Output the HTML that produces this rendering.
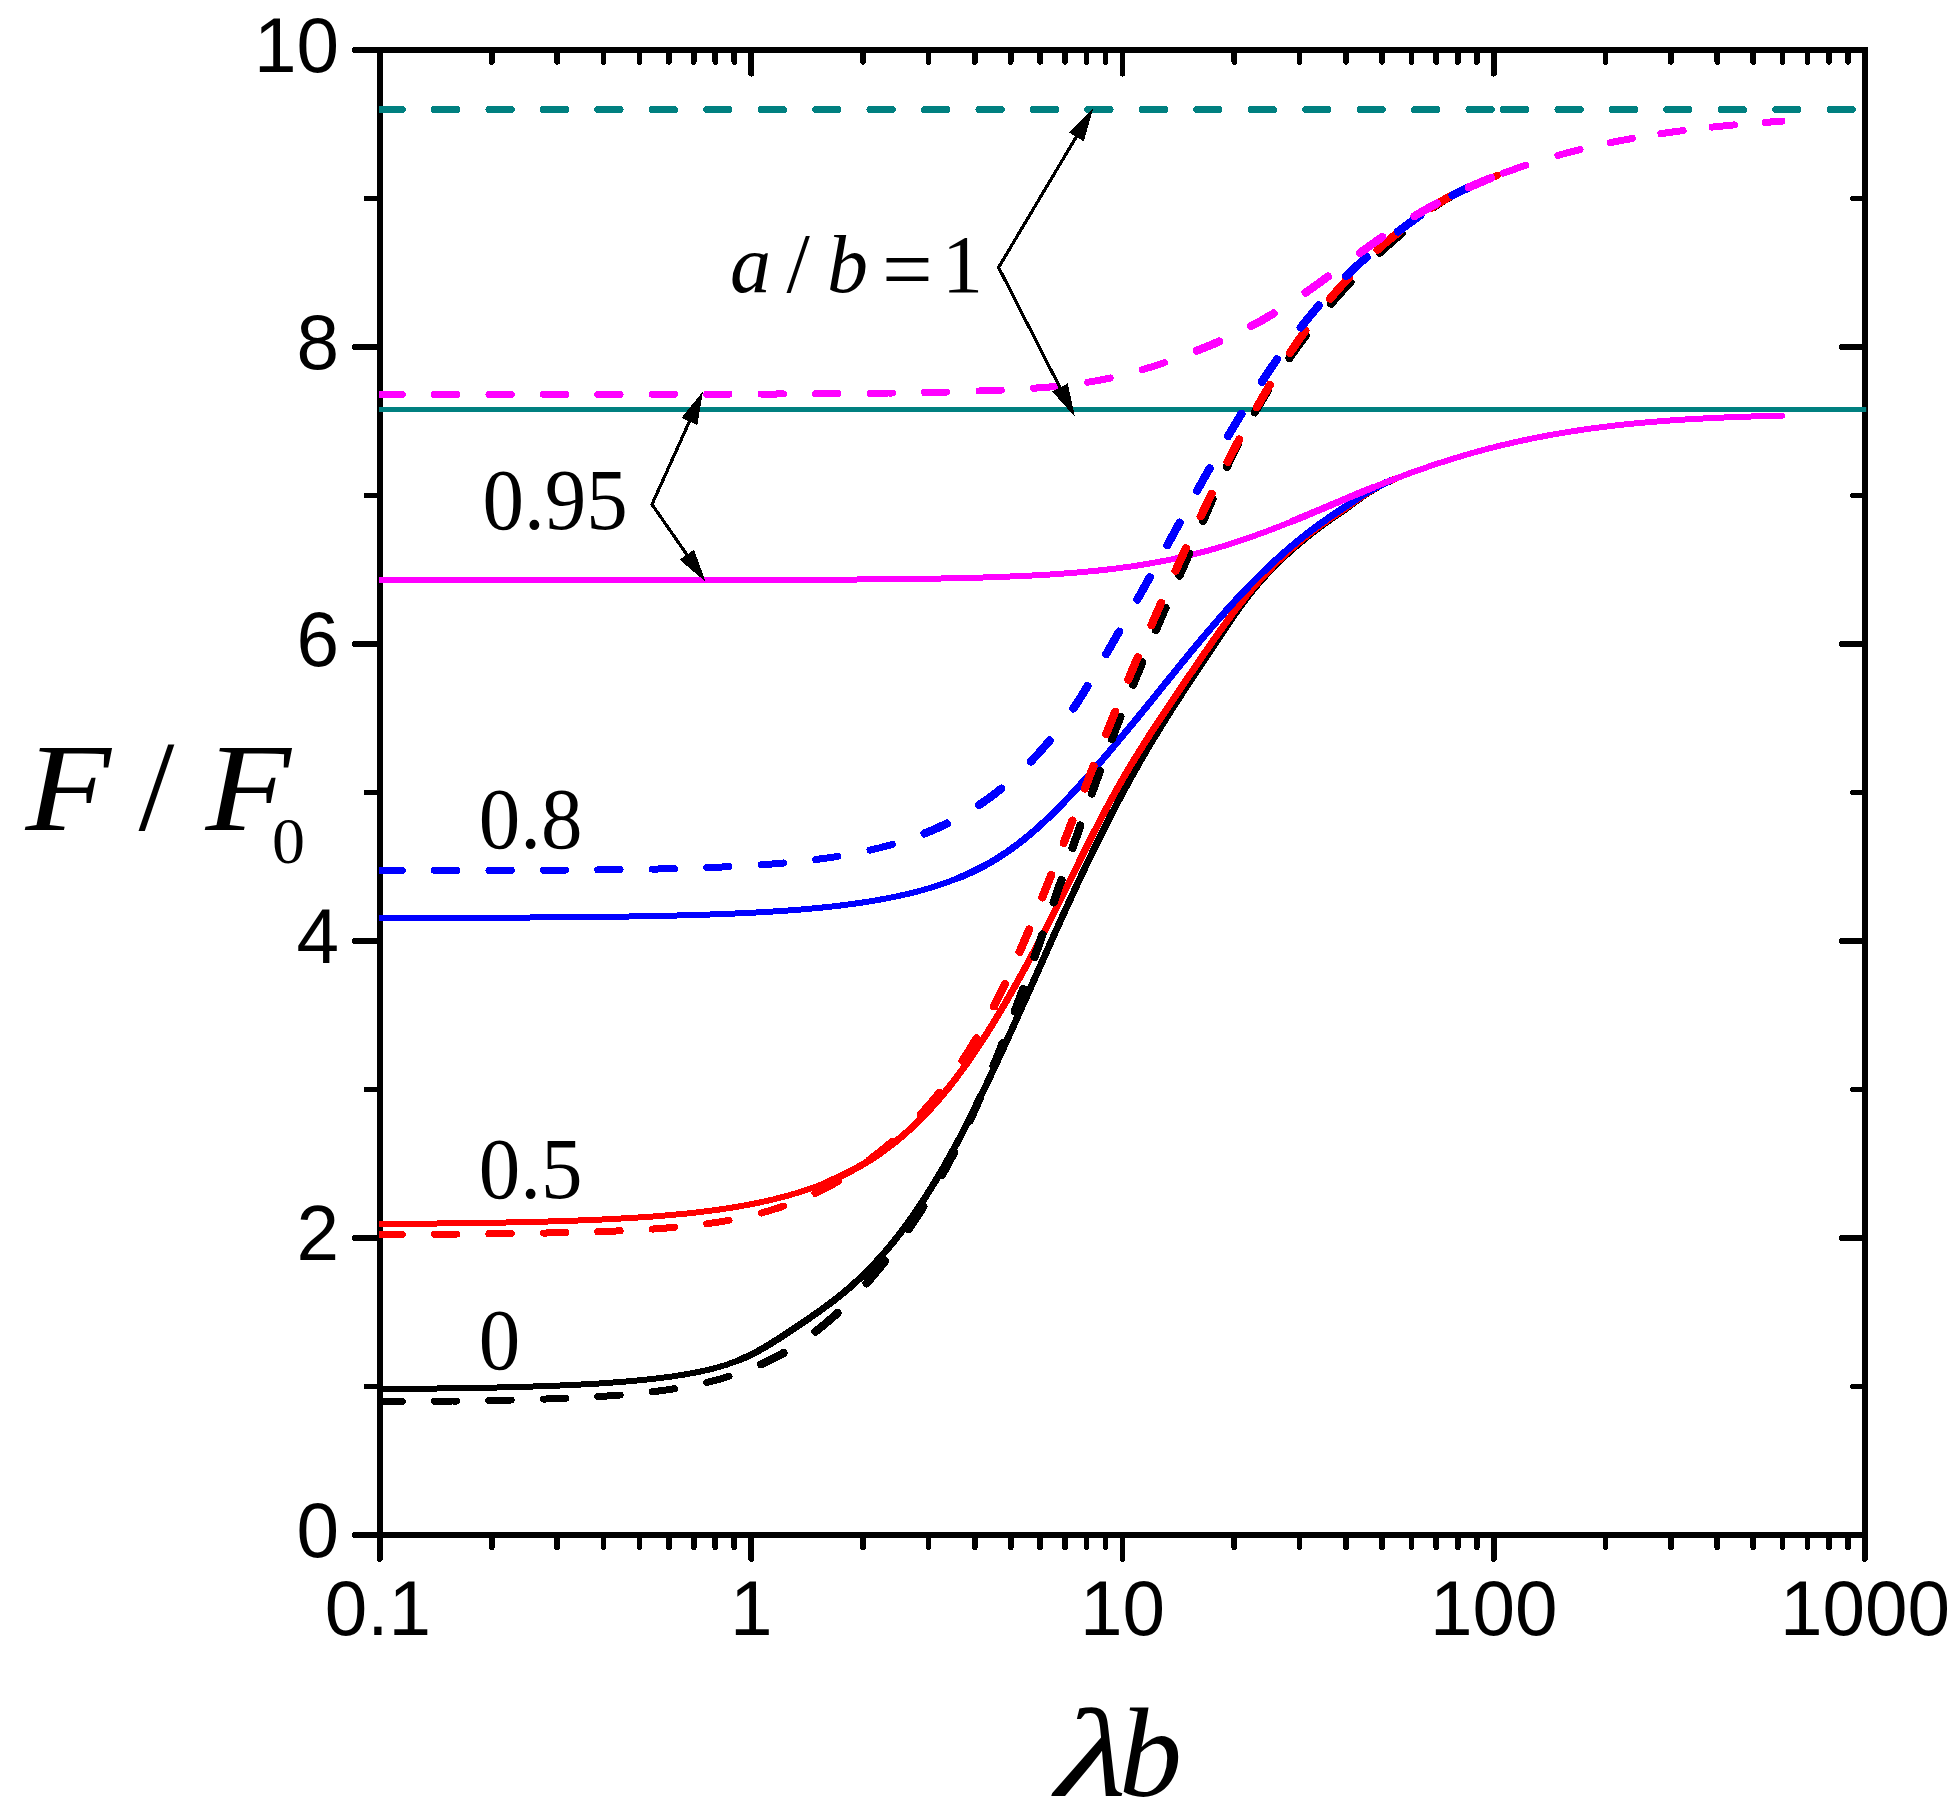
<!DOCTYPE html>
<html><head><meta charset="utf-8"><title>F / F0 versus λb</title>
<style>html,body{margin:0;padding:0;background:#fff}svg{display:block}</style>
</head><body>
<svg width="1959" height="1812" viewBox="0 0 1959 1812">
<rect width="1959" height="1812" fill="#fff"/>
<g fill="none" stroke="#000" stroke-linecap="round" shape-rendering="crispEdges">
<rect x="380" y="50" width="1485" height="1485" stroke-width="6.0" stroke-linejoin="miter"/>
<path d="M380 1535 v24.0 M380 50 v23.7 M491.8 1535 v12.2 M491.8 50 v11.899999999999999 M557.1 1535 v12.2 M557.1 50 v11.899999999999999 M603.5 1535 v12.2 M603.5 50 v11.899999999999999 M639.5 1535 v12.2 M639.5 50 v11.899999999999999 M668.9 1535 v12.2 M668.9 50 v11.899999999999999 M693.7 1535 v12.2 M693.7 50 v11.899999999999999 M715.3 1535 v12.2 M715.3 50 v11.899999999999999 M734.3 1535 v12.2 M734.3 50 v11.899999999999999 M751.2 1535 v24.0 M751.2 50 v23.7 M863 1535 v12.2 M863 50 v11.899999999999999 M928.4 1535 v12.2 M928.4 50 v11.899999999999999 M974.8 1535 v12.2 M974.8 50 v11.899999999999999 M1010.7 1535 v12.2 M1010.7 50 v11.899999999999999 M1040.1 1535 v12.2 M1040.1 50 v11.899999999999999 M1065 1535 v12.2 M1065 50 v11.899999999999999 M1086.5 1535 v12.2 M1086.5 50 v11.899999999999999 M1105.5 1535 v12.2 M1105.5 50 v11.899999999999999 M1122.5 1535 v24.0 M1122.5 50 v23.7 M1234.3 1535 v12.2 M1234.3 50 v11.899999999999999 M1299.6 1535 v12.2 M1299.6 50 v11.899999999999999 M1346 1535 v12.2 M1346 50 v11.899999999999999 M1382 1535 v12.2 M1382 50 v11.899999999999999 M1411.4 1535 v12.2 M1411.4 50 v11.899999999999999 M1436.2 1535 v12.2 M1436.2 50 v11.899999999999999 M1457.8 1535 v12.2 M1457.8 50 v11.899999999999999 M1476.8 1535 v12.2 M1476.8 50 v11.899999999999999 M1493.8 1535 v24.0 M1493.8 50 v23.7 M1605.5 1535 v12.2 M1605.5 50 v11.899999999999999 M1670.9 1535 v12.2 M1670.9 50 v11.899999999999999 M1717.3 1535 v12.2 M1717.3 50 v11.899999999999999 M1753.2 1535 v12.2 M1753.2 50 v11.899999999999999 M1782.6 1535 v12.2 M1782.6 50 v11.899999999999999 M1807.5 1535 v12.2 M1807.5 50 v11.899999999999999 M1829 1535 v12.2 M1829 50 v11.899999999999999 M1848 1535 v12.2 M1848 50 v11.899999999999999 M1865 1535 v24.0 M1865 50 v23.7 M380 1535 h-25.0 M1865 1535 h-23.5 M380 1386.5 h-13.5 M1865 1386.5 h-12.0 M380 1238 h-25.0 M1865 1238 h-23.5 M380 1089.5 h-13.5 M1865 1089.5 h-12.0 M380 941 h-25.0 M1865 941 h-23.5 M380 792.5 h-13.5 M1865 792.5 h-12.0 M380 644 h-25.0 M1865 644 h-23.5 M380 495.5 h-13.5 M1865 495.5 h-12.0 M380 347 h-25.0 M1865 347 h-23.5 M380 198.5 h-13.5 M1865 198.5 h-12.0 M380 50 h-25.0 M1865 50 h-23.5" stroke-width="5.7"/>
</g>
<clipPath id="pc"><rect x="379" y="40" width="1487.2" height="1500"/></clipPath>
<g fill="none" stroke-linecap="round" stroke-linejoin="round" clip-path="url(#pc)" shape-rendering="crispEdges">
<path d="M380 1389 L383 1389 L386 1389 L389 1388.9 L392 1388.9 L395 1388.9 L398 1388.9 L401 1388.8 L404 1388.8 L407 1388.8 L410 1388.8 L413 1388.7 L416 1388.7 L419 1388.7 L422 1388.7 L425 1388.6 L428 1388.6 L431 1388.6 L434 1388.5 L437 1388.5 L440 1388.4 L443 1388.4 L446 1388.4 L449 1388.3 L452 1388.3 L455 1388.2 L458 1388.2 L461 1388.2 L464 1388.1 L467 1388.1 L470 1388 L473 1388 L476 1387.9 L479 1387.8 L482 1387.8 L485 1387.7 L488 1387.7 L491 1387.6 L494 1387.5 L497 1387.5 L500 1387.4 L503 1387.3 L506 1387.3 L509 1387.2 L512 1387.1 L515 1387 L518 1386.9 L521 1386.9 L524 1386.8 L527 1386.7 L530 1386.6 L533 1386.5 L536 1386.4 L539 1386.3 L542 1386.2 L545 1386.1 L548 1386 L551 1385.9 L554 1385.7 L557 1385.6 L560 1385.5 L563 1385.4 L566 1385.2 L569 1385.1 L572 1385 L575 1384.8 L578 1384.7 L581 1384.5 L584 1384.3 L587 1384.2 L590 1384 L593 1383.8 L596 1383.7 L599 1383.5 L602 1383.3 L605 1383.1 L608 1382.9 L611 1382.7 L614 1382.4 L617 1382.2 L620 1382 L623 1381.7 L626 1381.5 L629 1381.2 L632 1381 L635 1380.7 L638 1380.4 L641 1380.1 L644 1379.8 L647 1379.5 L650 1379.2 L653 1378.9 L656 1378.5 L659 1378.2 L662 1377.8 L665 1377.4 L668 1377 L671 1376.6 L674 1376.2 L677 1375.7 L680 1375.2 L683 1374.8 L686 1374.3 L689 1373.7 L692 1373.2 L695 1372.6 L698 1372 L701 1371.4 L704 1370.7 L707 1370.1 L710 1369.3 L713 1368.6 L716 1367.8 L719 1367 L722 1366.1 L725 1365.2 L728 1364.2 L731 1363.1 L734 1362.1 L737 1360.9 L740 1359.7 L743 1358.4 L746 1357.1 L749 1355.7 L752 1354.2 L755 1352.7 L758 1351.1 L761 1349.4 L764 1347.7 L767 1345.9 L770 1344.1 L773 1342.2 L776 1340.3 L779 1338.4 L782 1336.4 L785 1334.5 L788 1332.5 L791 1330.5 L794 1328.5 L797 1326.5 L800 1324.5 L803 1322.5 L806 1320.4 L809 1318.4 L812 1316.3 L815 1314.2 L818 1312.1 L821 1310 L824 1307.8 L827 1305.6 L830 1303.4 L833 1301.1 L836 1298.8 L839 1296.4 L842 1294 L845 1291.5 L848 1289 L851 1286.4 L854 1283.7 L857 1281 L860 1278.2 L863 1275.3 L866 1272.4 L869 1269.3 L872 1266.3 L875 1263.1 L878 1259.8 L881 1256.5 L884 1253.1 L887 1249.6 L890 1246 L893 1242.4 L896 1238.6 L899 1234.8 L902 1230.8 L905 1226.8 L908 1222.7 L911 1218.5 L914 1214.2 L917 1209.9 L920 1205.4 L923 1200.8 L926 1196.2 L929 1191.4 L932 1186.6 L935 1181.7 L938 1176.7 L941 1171.6 L944 1166.4 L947 1161.1 L950 1155.8 L953 1150.3 L956 1144.8 L959 1139.2 L962 1133.5 L965 1127.7 L968 1121.9 L971 1116 L974 1110 L977 1103.9 L980 1097.8 L983 1091.6 L986 1085.4 L989 1079.1 L992 1072.7 L995 1066.3 L998 1059.9 L1001 1053.4 L1004 1046.8 L1007 1040.3 L1010 1033.6 L1013 1027 L1016 1020.3 L1019 1013.6 L1022 1006.9 L1025 1000.2 L1028 993.5 L1031 986.7 L1034 980 L1037 973.2 L1040 966.5 L1043 959.7 L1046 953 L1049 946.3 L1052 939.6 L1055 932.9 L1058 926.2 L1061 919.6 L1064 913 L1067 906.4 L1070 899.9 L1073 893.4 L1076 886.9 L1079 880.5 L1082 874.1 L1085 867.8 L1088 861.5 L1091 855.3 L1094 849.1 L1097 843 L1100 836.9 L1103 830.9 L1106 824.9 L1109 819 L1112 813.2 L1115 807.4 L1118 801.7 L1121 796 L1124 790.5 L1127 784.9 L1130 779.5 L1133 774.1 L1136 768.7 L1139 763.4 L1142 758.2 L1145 753 L1148 747.9 L1151 742.9 L1154 737.9 L1157 733 L1160 728.1 L1163 723.2 L1166 718.5 L1169 713.7 L1172 709 L1175 704.3 L1178 699.7 L1181 695.1 L1184 690.5 L1187 686 L1190 681.4 L1193 676.9 L1196 672.4 L1199 667.8 L1202 663.3 L1205 658.8 L1208 654.2 L1211 649.7 L1214 645.1 L1217 640.6 L1220 636.1 L1223 631.6 L1226 627.1 L1229 622.7 L1232 618.3 L1235 614 L1238 609.8 L1241 605.6 L1244 601.6 L1247 597.6 L1250 593.8 L1253 590.1 L1256 586.5 L1259 582.9 L1262 579.5 L1265 576.2 L1268 572.9 L1271 569.8 L1274 566.7 L1277 563.7 L1280 560.8 L1283 557.9 L1286 555.1 L1289 552.4 L1292 549.7 L1295 547.1 L1298 544.5 L1301 542 L1304 539.5 L1307 537.1 L1310 534.7 L1313 532.3 L1316 530 L1319 527.7 L1322 525.5 L1325 523.3 L1328 521.2 L1331 519 L1334 517 L1337 514.9 L1340 512.9 L1343 510.8 L1346 508.7 L1349 506.5 L1352 504.2 L1355 502 L1358 499.8 L1361 497.7 L1364 495.6 L1367 493.5 L1370 491.6 L1373 489.8 L1376 488 L1379 486.3 L1382 484.8 L1385 483.3 L1388 481.9 L1391 480.5 L1394 479.3 L1397 478.1 L1400 476.9 L1403 475.8 L1406 474.7 L1409 473.5 L1412 472.5 L1415 471.4 L1418 470.3 L1421 469.2 L1424 468.2 L1427 467.2 L1430 466.1 L1433 465.1 L1436 464.1 L1439 463.1 L1442 462.2 L1445 461.2 L1448 460.2 L1451 459.3 L1454 458.4 L1457 457.5 L1460 456.6 L1463 455.7 L1466 454.8 L1469 453.9 L1472 453.1 L1475 452.2 L1478 451.4 L1481 450.6 L1484 449.8 L1487 449 L1490 448.2 L1493 447.5 L1496 446.7 L1499 446 L1502 445.2 L1505 444.5 L1508 443.8 L1511 443.1 L1514 442.4 L1517 441.7 L1520 441.1 L1523 440.4 L1526 439.8 L1529 439.2 L1532 438.5 L1535 437.9 L1538 437.3 L1541 436.8 L1544 436.2 L1547 435.6 L1550 435.1 L1553 434.5 L1556 434 L1559 433.5 L1562 433 L1565 432.5 L1568 432 L1571 431.5 L1574 431 L1577 430.6 L1580 430.1 L1583 429.7 L1586 429.2 L1589 428.8 L1592 428.4 L1595 428 L1598 427.6 L1601 427.2 L1604 426.8 L1607 426.5 L1610 426.1 L1613 425.8 L1616 425.4 L1619 425.1 L1622 424.8 L1625 424.4 L1628 424.1 L1631 423.8 L1634 423.5 L1637 423.3 L1640 423 L1643 422.7 L1646 422.4 L1649 422.2 L1652 421.9 L1655 421.7 L1658 421.4 L1661 421.2 L1664 421 L1667 420.8 L1670 420.5 L1673 420.3 L1676 420.1 L1679 419.9 L1682 419.7 L1685 419.5 L1688 419.4 L1691 419.2 L1694 419 L1697 418.8 L1700 418.7 L1703 418.5 L1706 418.4 L1709 418.2 L1712 418.1 L1715 417.9 L1718 417.8 L1721 417.7 L1724 417.5 L1727 417.4 L1730 417.3 L1733 417.2 L1736 417.1 L1739 417 L1742 416.8 L1745 416.7 L1748 416.6 L1751 416.5 L1754 416.4 L1757 416.4 L1760 416.3 L1763 416.2 L1766 416.1 L1769 416 L1772 415.9 L1775 415.9 L1778 415.8 L1781 415.7 L1782 415.7" stroke="#000" stroke-width="6.0"/>
<path d="M740 1359.7 L743 1358.4 L746 1357.1 L749 1355.7 L752 1354.2 L755 1352.7 L758 1351.1 L761 1349.4 L764 1347.7 L767 1345.9 L770 1344.1 L773 1342.2 L776 1340.3 L779 1338.4 L782 1336.4 L785 1334.5 L788 1332.5 L791 1330.5 L794 1328.5 L797 1326.5 L800 1324.5 L803 1322.5 L806 1320.4 L809 1318.4 L812 1316.3 L815 1314.2 L818 1312.1 L821 1310 L824 1307.8 L827 1305.6 L830 1303.4 L833 1301.1 L836 1298.8 L839 1296.4 L842 1294 L845 1291.5 L848 1289 L851 1286.4 L854 1283.7 L857 1281 L860 1278.2 L863 1275.3 L866 1272.4 L869 1269.3 L872 1266.3 L875 1263.1 L878 1259.8 L881 1256.5 L884 1253.1 L887 1249.6 L890 1246 L893 1242.4 L896 1238.6 L899 1234.8 L902 1230.8 L905 1226.8 L908 1222.7 L911 1218.5 L914 1214.2 L917 1209.9 L920 1205.4 L923 1200.8 L926 1196.2 L929 1191.4 L932 1186.6 L935 1181.7 L938 1176.7 L941 1171.6 L944 1166.4 L947 1161.1 L950 1155.8 L953 1150.3 L956 1144.8 L959 1139.2 L962 1133.5 L965 1127.7 L968 1121.9 L971 1116 L974 1110 L977 1103.9 L980 1097.8 L983 1091.6 L986 1085.4 L989 1079.1 L992 1072.7 L995 1066.3 L998 1059.9 L1001 1053.4 L1004 1046.8 L1007 1040.3 L1010 1033.6 L1013 1027 L1016 1020.3 L1019 1013.6 L1022 1006.9 L1025 1000.2 L1028 993.5 L1031 986.7 L1034 980 L1037 973.2 L1040 966.5 L1043 959.7 L1046 953 L1049 946.3 L1052 939.6 L1055 932.9 L1058 926.2 L1061 919.6 L1064 913 L1067 906.4 L1070 899.9 L1073 893.4 L1076 886.9 L1079 880.5 L1082 874.1 L1085 867.8 L1088 861.5 L1091 855.3 L1094 849.1 L1097 843 L1100 836.9 L1103 830.9 L1106 824.9 L1109 819 L1112 813.2 L1115 807.4 L1118 801.7 L1121 796 L1124 790.5 L1127 784.9 L1130 779.5 L1133 774.1 L1136 768.7 L1139 763.4 L1142 758.2 L1145 753 L1148 747.9 L1151 742.9 L1154 737.9 L1157 733 L1160 728.1 L1163 723.2 L1166 718.5 L1169 713.7 L1172 709 L1175 704.3 L1178 699.7 L1181 695.1 L1184 690.5 L1187 686 L1190 681.4 L1193 676.9 L1196 672.4 L1199 667.8 L1202 663.3 L1205 658.8 L1208 654.2 L1211 649.7 L1214 645.1 L1217 640.6 L1220 636.1 L1223 631.6 L1226 627.1 L1229 622.7 L1232 618.3 L1235 614 L1238 609.8 L1241 605.6 L1244 601.6 L1247 597.6 L1250 593.8 L1253 590.1 L1256 586.5 L1259 582.9 L1262 579.5 L1265 576.2 L1268 572.9 L1271 569.8 L1274 566.7 L1277 563.7 L1280 560.8 L1283 557.9 L1286 555.1 L1289 552.4 L1292 549.7 L1295 547.1 L1298 544.5 L1301 542 L1304 539.5 L1307 537.1 L1310 534.7 L1313 532.3 L1316 530 L1319 527.7 L1322 525.5 L1325 523.3 L1328 521.2 L1331 519 L1334 517 L1337 514.9 L1340 512.9 L1343 510.8 L1346 508.7 L1349 506.5 L1352 504.2 L1355 502 L1358 499.8 L1361 497.7 L1364 495.6 L1367 493.5 L1370 491.6 L1373 489.8 L1376 488 L1379 486.3 L1382 484.8 L1385 483.3 L1388 481.9 L1391 480.5 L1394 479.3" stroke="#000" stroke-width="6.9"/>
<path d="M380 1224 L383 1224 L386 1224 L389 1223.9 L392 1223.9 L395 1223.9 L398 1223.8 L401 1223.8 L404 1223.8 L407 1223.8 L410 1223.7 L413 1223.7 L416 1223.7 L419 1223.7 L422 1223.6 L425 1223.6 L428 1223.6 L431 1223.5 L434 1223.5 L437 1223.5 L440 1223.4 L443 1223.4 L446 1223.4 L449 1223.3 L452 1223.3 L455 1223.3 L458 1223.2 L461 1223.2 L464 1223.1 L467 1223.1 L470 1223.1 L473 1223 L476 1223 L479 1222.9 L482 1222.9 L485 1222.8 L488 1222.8 L491 1222.7 L494 1222.7 L497 1222.6 L500 1222.6 L503 1222.5 L506 1222.5 L509 1222.4 L512 1222.3 L515 1222.3 L518 1222.2 L521 1222.2 L524 1222.1 L527 1222 L530 1222 L533 1221.9 L536 1221.8 L539 1221.7 L542 1221.6 L545 1221.6 L548 1221.5 L551 1221.4 L554 1221.3 L557 1221.2 L560 1221.1 L563 1221 L566 1220.9 L569 1220.8 L572 1220.7 L575 1220.6 L578 1220.5 L581 1220.4 L584 1220.3 L587 1220.2 L590 1220 L593 1219.9 L596 1219.8 L599 1219.7 L602 1219.5 L605 1219.4 L608 1219.2 L611 1219.1 L614 1218.9 L617 1218.8 L620 1218.6 L623 1218.4 L626 1218.3 L629 1218.1 L632 1217.9 L635 1217.7 L638 1217.5 L641 1217.3 L644 1217.1 L647 1216.9 L650 1216.7 L653 1216.5 L656 1216.2 L659 1216 L662 1215.8 L665 1215.5 L668 1215.3 L671 1215 L674 1214.7 L677 1214.4 L680 1214.2 L683 1213.9 L686 1213.6 L689 1213.2 L692 1212.9 L695 1212.6 L698 1212.2 L701 1211.9 L704 1211.5 L707 1211.2 L710 1210.8 L713 1210.4 L716 1210 L719 1209.6 L722 1209.1 L725 1208.7 L728 1208.2 L731 1207.7 L734 1207.3 L737 1206.8 L740 1206.2 L743 1205.7 L746 1205.2 L749 1204.6 L752 1204 L755 1203.4 L758 1202.8 L761 1202.2 L764 1201.5 L767 1200.9 L770 1200.2 L773 1199.5 L776 1198.7 L779 1198 L782 1197.2 L785 1196.4 L788 1195.6 L791 1194.7 L794 1193.8 L797 1192.9 L800 1192 L803 1191 L806 1190 L809 1189 L812 1188 L815 1186.9 L818 1185.8 L821 1184.6 L824 1183.4 L827 1182.2 L830 1180.9 L833 1179.6 L836 1178.3 L839 1176.9 L842 1175.5 L845 1174 L848 1172.5 L851 1171 L854 1169.4 L857 1167.7 L860 1166 L863 1164.3 L866 1162.5 L869 1160.6 L872 1158.7 L875 1156.8 L878 1154.7 L881 1152.7 L884 1150.5 L887 1148.3 L890 1146.1 L893 1143.7 L896 1141.4 L899 1138.9 L902 1136.4 L905 1133.8 L908 1131.1 L911 1128.4 L914 1125.6 L917 1122.7 L920 1119.7 L923 1116.7 L926 1113.6 L929 1110.4 L932 1107.1 L935 1103.8 L938 1100.4 L941 1096.9 L944 1093.3 L947 1089.6 L950 1085.9 L953 1082 L956 1078.1 L959 1074.1 L962 1070.1 L965 1065.9 L968 1061.7 L971 1057.4 L974 1053 L977 1048.5 L980 1044 L983 1039.4 L986 1034.7 L989 1030 L992 1025.1 L995 1020.2 L998 1015.3 L1001 1010.3 L1004 1005.2 L1007 1000 L1010 994.8 L1013 989.6 L1016 984.3 L1019 978.9 L1022 973.5 L1025 968 L1028 962.5 L1031 956.9 L1034 951.3 L1037 945.6 L1040 939.9 L1043 934.2 L1046 928.4 L1049 922.5 L1052 916.6 L1055 910.7 L1058 904.7 L1061 898.7 L1064 892.7 L1067 886.6 L1070 880.6 L1073 874.5 L1076 868.4 L1079 862.3 L1082 856.2 L1085 850.1 L1088 844.1 L1091 838.1 L1094 832.2 L1097 826.3 L1100 820.5 L1103 814.8 L1106 809.1 L1109 803.5 L1112 798 L1115 792.6 L1118 787.3 L1121 782 L1124 776.8 L1127 771.7 L1130 766.6 L1133 761.7 L1136 756.7 L1139 751.9 L1142 747.1 L1145 742.3 L1148 737.6 L1151 732.9 L1154 728.3 L1157 723.7 L1160 719.1 L1163 714.6 L1166 710.1 L1169 705.6 L1172 701.1 L1175 696.6 L1178 692.2 L1181 687.8 L1184 683.3 L1187 678.9 L1190 674.5 L1193 670.1 L1196 665.7 L1199 661.3 L1202 656.9 L1205 652.5 L1208 648.1 L1211 643.8 L1214 639.5 L1217 635.2 L1220 630.9 L1223 626.7 L1226 622.6 L1229 618.5 L1232 614.4 L1235 610.4 L1238 606.5 L1241 602.6 L1244 598.9 L1247 595.1 L1250 591.5 L1253 587.9 L1256 584.5 L1259 581.1 L1262 577.7 L1265 574.5 L1268 571.3 L1271 568.2 L1274 565.1 L1277 562.1 L1280 559.2 L1283 556.4 L1286 553.6 L1289 550.9 L1292 548.2 L1295 545.6 L1298 543 L1301 540.5 L1304 538.1 L1307 535.6 L1310 533.3 L1313 531 L1316 528.7 L1319 526.4 L1322 524.2 L1325 522.1 L1328 520 L1331 517.9 L1334 515.8 L1337 513.8 L1340 511.8 L1343 509.8 L1346 507.7 L1349 505.6 L1352 503.4 L1355 501.3 L1358 499.2 L1361 497.1 L1364 495.1 L1367 493.1 L1370 491.3 L1373 489.5 L1376 487.8 L1379 486.2 L1382 484.7 L1385 483.2 L1388 481.8 L1391 480.5 L1394 479.2 L1397 478 L1400 476.9 L1403 475.8 L1406 474.7 L1409 473.5 L1412 472.5 L1415 471.4 L1418 470.3 L1421 469.2 L1424 468.2 L1427 467.2 L1430 466.1 L1433 465.1 L1436 464.1 L1439 463.1 L1442 462.2 L1445 461.2 L1448 460.2 L1451 459.3 L1454 458.4 L1457 457.5 L1460 456.6 L1463 455.7 L1466 454.8 L1469 453.9 L1472 453.1 L1475 452.2 L1478 451.4 L1481 450.6 L1484 449.8 L1487 449 L1490 448.2 L1493 447.5 L1496 446.7 L1499 446 L1502 445.2 L1505 444.5 L1508 443.8 L1511 443.1 L1514 442.4 L1517 441.7 L1520 441.1 L1523 440.4 L1526 439.8 L1529 439.2 L1532 438.5 L1535 437.9 L1538 437.3 L1541 436.8 L1544 436.2 L1547 435.6 L1550 435.1 L1553 434.5 L1556 434 L1559 433.5 L1562 433 L1565 432.5 L1568 432 L1571 431.5 L1574 431 L1577 430.6 L1580 430.1 L1583 429.7 L1586 429.2 L1589 428.8 L1592 428.4 L1595 428 L1598 427.6 L1601 427.2 L1604 426.8 L1607 426.5 L1610 426.1 L1613 425.8 L1616 425.4 L1619 425.1 L1622 424.8 L1625 424.4 L1628 424.1 L1631 423.8 L1634 423.5 L1637 423.3 L1640 423 L1643 422.7 L1646 422.4 L1649 422.2 L1652 421.9 L1655 421.7 L1658 421.4 L1661 421.2 L1664 421 L1667 420.8 L1670 420.5 L1673 420.3 L1676 420.1 L1679 419.9 L1682 419.7 L1685 419.5 L1688 419.4 L1691 419.2 L1694 419 L1697 418.8 L1700 418.7 L1703 418.5 L1706 418.4 L1709 418.2 L1712 418.1 L1715 417.9 L1718 417.8 L1721 417.7 L1724 417.5 L1727 417.4 L1730 417.3 L1733 417.2 L1736 417.1 L1739 417 L1742 416.8 L1745 416.7 L1748 416.6 L1751 416.5 L1754 416.4 L1757 416.4 L1760 416.3 L1763 416.2 L1766 416.1 L1769 416 L1772 415.9 L1775 415.9 L1778 415.8 L1781 415.7 L1782 415.7" stroke="#f00" stroke-width="6.0"/>
<path d="M827 1182.2 L830 1180.9 L833 1179.6 L836 1178.3 L839 1176.9 L842 1175.5 L845 1174 L848 1172.5 L851 1171 L854 1169.4 L857 1167.7 L860 1166 L863 1164.3 L866 1162.5 L869 1160.6 L872 1158.7 L875 1156.8 L878 1154.7 L881 1152.7 L884 1150.5 L887 1148.3 L890 1146.1 L893 1143.7 L896 1141.4 L899 1138.9 L902 1136.4 L905 1133.8 L908 1131.1 L911 1128.4 L914 1125.6 L917 1122.7 L920 1119.7 L923 1116.7 L926 1113.6 L929 1110.4 L932 1107.1 L935 1103.8 L938 1100.4 L941 1096.9 L944 1093.3 L947 1089.6 L950 1085.9 L953 1082 L956 1078.1 L959 1074.1 L962 1070.1 L965 1065.9 L968 1061.7 L971 1057.4 L974 1053 L977 1048.5 L980 1044 L983 1039.4 L986 1034.7 L989 1030 L992 1025.1 L995 1020.2 L998 1015.3 L1001 1010.3 L1004 1005.2 L1007 1000 L1010 994.8 L1013 989.6 L1016 984.3 L1019 978.9 L1022 973.5 L1025 968 L1028 962.5 L1031 956.9 L1034 951.3 L1037 945.6 L1040 939.9 L1043 934.2 L1046 928.4 L1049 922.5 L1052 916.6 L1055 910.7 L1058 904.7 L1061 898.7 L1064 892.7 L1067 886.6 L1070 880.6 L1073 874.5 L1076 868.4 L1079 862.3 L1082 856.2 L1085 850.1 L1088 844.1 L1091 838.1 L1094 832.2 L1097 826.3 L1100 820.5 L1103 814.8 L1106 809.1 L1109 803.5 L1112 798 L1115 792.6 L1118 787.3 L1121 782 L1124 776.8 L1127 771.7 L1130 766.6 L1133 761.7 L1136 756.7 L1139 751.9 L1142 747.1 L1145 742.3 L1148 737.6 L1151 732.9 L1154 728.3 L1157 723.7 L1160 719.1 L1163 714.6 L1166 710.1 L1169 705.6 L1172 701.1 L1175 696.6 L1178 692.2 L1181 687.8 L1184 683.3 L1187 678.9 L1190 674.5 L1193 670.1 L1196 665.7 L1199 661.3 L1202 656.9 L1205 652.5 L1208 648.1 L1211 643.8 L1214 639.5 L1217 635.2 L1220 630.9 L1223 626.7 L1226 622.6 L1229 618.5 L1232 614.4 L1235 610.4 L1238 606.5 L1241 602.6 L1244 598.9 L1247 595.1 L1250 591.5 L1253 587.9 L1256 584.5 L1259 581.1 L1262 577.7 L1265 574.5 L1268 571.3 L1271 568.2 L1274 565.1 L1277 562.1 L1280 559.2 L1283 556.4 L1286 553.6 L1289 550.9 L1292 548.2 L1295 545.6 L1298 543 L1301 540.5 L1304 538.1 L1307 535.6 L1310 533.3 L1313 531 L1316 528.7 L1319 526.4 L1322 524.2 L1325 522.1 L1328 520 L1331 517.9 L1334 515.8 L1337 513.8 L1340 511.8 L1343 509.8 L1346 507.7 L1349 505.6 L1352 503.4 L1355 501.3 L1358 499.2 L1361 497.1 L1364 495.1 L1367 493.1 L1370 491.3 L1373 489.5 L1376 487.8 L1379 486.2 L1382 484.7 L1385 483.2 L1388 481.8 L1391 480.5 L1394 479.2" stroke="#f00" stroke-width="6.9"/>
<path d="M380 918 L383 918 L386 918 L389 918 L392 918 L395 918 L398 918 L401 917.9 L404 917.9 L407 917.9 L410 917.9 L413 917.9 L416 917.9 L419 917.9 L422 917.9 L425 917.9 L428 917.9 L431 917.9 L434 917.9 L437 917.9 L440 917.8 L443 917.8 L446 917.8 L449 917.8 L452 917.8 L455 917.8 L458 917.8 L461 917.8 L464 917.8 L467 917.8 L470 917.7 L473 917.7 L476 917.7 L479 917.7 L482 917.7 L485 917.7 L488 917.7 L491 917.7 L494 917.7 L497 917.6 L500 917.6 L503 917.6 L506 917.6 L509 917.6 L512 917.6 L515 917.6 L518 917.5 L521 917.5 L524 917.5 L527 917.5 L530 917.5 L533 917.4 L536 917.4 L539 917.4 L542 917.4 L545 917.4 L548 917.3 L551 917.3 L554 917.3 L557 917.3 L560 917.3 L563 917.2 L566 917.2 L569 917.2 L572 917.2 L575 917.1 L578 917.1 L581 917.1 L584 917 L587 917 L590 917 L593 916.9 L596 916.9 L599 916.9 L602 916.8 L605 916.8 L608 916.8 L611 916.7 L614 916.7 L617 916.6 L620 916.6 L623 916.6 L626 916.5 L629 916.5 L632 916.4 L635 916.4 L638 916.3 L641 916.3 L644 916.2 L647 916.1 L650 916.1 L653 916 L656 916 L659 915.9 L662 915.8 L665 915.8 L668 915.7 L671 915.6 L674 915.6 L677 915.5 L680 915.4 L683 915.3 L686 915.3 L689 915.2 L692 915.1 L695 915 L698 914.9 L701 914.8 L704 914.7 L707 914.6 L710 914.5 L713 914.4 L716 914.3 L719 914.2 L722 914.1 L725 914 L728 913.8 L731 913.7 L734 913.6 L737 913.4 L740 913.3 L743 913.2 L746 913 L749 912.9 L752 912.7 L755 912.6 L758 912.4 L761 912.2 L764 912.1 L767 911.9 L770 911.7 L773 911.5 L776 911.3 L779 911.1 L782 910.9 L785 910.7 L788 910.5 L791 910.3 L794 910 L797 909.8 L800 909.6 L803 909.3 L806 909.1 L809 908.8 L812 908.5 L815 908.2 L818 908 L821 907.7 L824 907.3 L827 907 L830 906.7 L833 906.4 L836 906 L839 905.7 L842 905.3 L845 904.9 L848 904.5 L851 904.1 L854 903.7 L857 903.3 L860 902.9 L863 902.4 L866 902 L869 901.5 L872 901 L875 900.5 L878 900 L881 899.4 L884 898.9 L887 898.3 L890 897.7 L893 897.1 L896 896.5 L899 895.9 L902 895.2 L905 894.5 L908 893.8 L911 893.1 L914 892.3 L917 891.6 L920 890.8 L923 889.9 L926 889.1 L929 888.2 L932 887.3 L935 886.4 L938 885.4 L941 884.4 L944 883.4 L947 882.3 L950 881.2 L953 880.1 L956 878.9 L959 877.7 L962 876.5 L965 875.2 L968 873.8 L971 872.5 L974 871 L977 869.6 L980 868.1 L983 866.5 L986 864.9 L989 863.2 L992 861.5 L995 859.7 L998 857.8 L1001 855.9 L1004 854 L1007 852 L1010 849.9 L1013 847.7 L1016 845.5 L1019 843.3 L1022 840.9 L1025 838.5 L1028 836.1 L1031 833.6 L1034 831 L1037 828.3 L1040 825.6 L1043 822.9 L1046 820.1 L1049 817.2 L1052 814.3 L1055 811.3 L1058 808.3 L1061 805.3 L1064 802.2 L1067 799 L1070 795.9 L1073 792.7 L1076 789.4 L1079 786.1 L1082 782.8 L1085 779.5 L1088 776.1 L1091 772.8 L1094 769.4 L1097 765.9 L1100 762.5 L1103 759 L1106 755.5 L1109 752 L1112 748.5 L1115 744.9 L1118 741.3 L1121 737.7 L1124 734.1 L1127 730.5 L1130 726.9 L1133 723.3 L1136 719.6 L1139 715.9 L1142 712.3 L1145 708.6 L1148 704.9 L1151 701.2 L1154 697.5 L1157 693.8 L1160 690.1 L1163 686.3 L1166 682.6 L1169 678.9 L1172 675.2 L1175 671.5 L1178 667.8 L1181 664.1 L1184 660.5 L1187 656.8 L1190 653.1 L1193 649.5 L1196 645.9 L1199 642.3 L1202 638.7 L1205 635.1 L1208 631.6 L1211 628.1 L1214 624.6 L1217 621.1 L1220 617.7 L1223 614.3 L1226 610.9 L1229 607.6 L1232 604.3 L1235 601 L1238 597.7 L1241 594.5 L1244 591.4 L1247 588.2 L1250 585.1 L1253 582.1 L1256 579 L1259 576.1 L1262 573.1 L1265 570.2 L1268 567.3 L1271 564.5 L1274 561.7 L1277 559 L1280 556.3 L1283 553.6 L1286 551 L1289 548.4 L1292 545.8 L1295 543.3 L1298 540.8 L1301 538.4 L1304 536 L1307 533.7 L1310 531.4 L1313 529.1 L1316 526.9 L1319 524.7 L1322 522.5 L1325 520.4 L1328 518.3 L1331 516.2 L1334 514.2 L1337 512.2 L1340 510.3 L1343 508.3 L1346 506.3 L1349 504.2 L1352 502.2 L1355 500.1 L1358 498.1 L1361 496.1 L1364 494.3 L1367 492.4 L1370 490.7 L1373 489 L1376 487.4 L1379 485.9 L1382 484.4 L1385 483 L1388 481.7 L1391 480.4 L1394 479.2 L1397 478 L1400 476.9 L1403 475.8 L1406 474.7 L1409 473.5 L1412 472.5 L1415 471.4 L1418 470.3 L1421 469.2 L1424 468.2 L1427 467.2 L1430 466.1 L1433 465.1 L1436 464.1 L1439 463.1 L1442 462.2 L1445 461.2 L1448 460.2 L1451 459.3 L1454 458.4 L1457 457.5 L1460 456.6 L1463 455.7 L1466 454.8 L1469 453.9 L1472 453.1 L1475 452.2 L1478 451.4 L1481 450.6 L1484 449.8 L1487 449 L1490 448.2 L1493 447.5 L1496 446.7 L1499 446 L1502 445.2 L1505 444.5 L1508 443.8 L1511 443.1 L1514 442.4 L1517 441.7 L1520 441.1 L1523 440.4 L1526 439.8 L1529 439.2 L1532 438.5 L1535 437.9 L1538 437.3 L1541 436.8 L1544 436.2 L1547 435.6 L1550 435.1 L1553 434.5 L1556 434 L1559 433.5 L1562 433 L1565 432.5 L1568 432 L1571 431.5 L1574 431 L1577 430.6 L1580 430.1 L1583 429.7 L1586 429.2 L1589 428.8 L1592 428.4 L1595 428 L1598 427.6 L1601 427.2 L1604 426.8 L1607 426.5 L1610 426.1 L1613 425.8 L1616 425.4 L1619 425.1 L1622 424.8 L1625 424.4 L1628 424.1 L1631 423.8 L1634 423.5 L1637 423.3 L1640 423 L1643 422.7 L1646 422.4 L1649 422.2 L1652 421.9 L1655 421.7 L1658 421.4 L1661 421.2 L1664 421 L1667 420.8 L1670 420.5 L1673 420.3 L1676 420.1 L1679 419.9 L1682 419.7 L1685 419.5 L1688 419.4 L1691 419.2 L1694 419 L1697 418.8 L1700 418.7 L1703 418.5 L1706 418.4 L1709 418.2 L1712 418.1 L1715 417.9 L1718 417.8 L1721 417.7 L1724 417.5 L1727 417.4 L1730 417.3 L1733 417.2 L1736 417.1 L1739 417 L1742 416.8 L1745 416.7 L1748 416.6 L1751 416.5 L1754 416.4 L1757 416.4 L1760 416.3 L1763 416.2 L1766 416.1 L1769 416 L1772 415.9 L1775 415.9 L1778 415.8 L1781 415.7 L1782 415.7" stroke="#00f" stroke-width="6.0"/>
<path d="M959 877.7 L962 876.5 L965 875.2 L968 873.8 L971 872.5 L974 871 L977 869.6 L980 868.1 L983 866.5 L986 864.9 L989 863.2 L992 861.5 L995 859.7 L998 857.8 L1001 855.9 L1004 854 L1007 852 L1010 849.9 L1013 847.7 L1016 845.5 L1019 843.3 L1022 840.9 L1025 838.5 L1028 836.1 L1031 833.6 L1034 831 L1037 828.3 L1040 825.6 L1043 822.9 L1046 820.1 L1049 817.2 L1052 814.3 L1055 811.3 L1058 808.3 L1061 805.3 L1064 802.2 L1067 799 L1070 795.9 L1073 792.7 L1076 789.4 L1079 786.1 L1082 782.8 L1085 779.5 L1088 776.1 L1091 772.8 L1094 769.4 L1097 765.9 L1100 762.5 L1103 759 L1106 755.5 L1109 752 L1112 748.5 L1115 744.9 L1118 741.3 L1121 737.7 L1124 734.1 L1127 730.5 L1130 726.9 L1133 723.3 L1136 719.6 L1139 715.9 L1142 712.3 L1145 708.6 L1148 704.9 L1151 701.2 L1154 697.5 L1157 693.8 L1160 690.1 L1163 686.3 L1166 682.6 L1169 678.9 L1172 675.2 L1175 671.5 L1178 667.8 L1181 664.1 L1184 660.5 L1187 656.8 L1190 653.1 L1193 649.5 L1196 645.9 L1199 642.3 L1202 638.7 L1205 635.1 L1208 631.6 L1211 628.1 L1214 624.6 L1217 621.1 L1220 617.7 L1223 614.3 L1226 610.9 L1229 607.6 L1232 604.3 L1235 601 L1238 597.7 L1241 594.5 L1244 591.4 L1247 588.2 L1250 585.1 L1253 582.1 L1256 579 L1259 576.1 L1262 573.1 L1265 570.2 L1268 567.3 L1271 564.5 L1274 561.7 L1277 559 L1280 556.3 L1283 553.6 L1286 551 L1289 548.4 L1292 545.8 L1295 543.3 L1298 540.8 L1301 538.4 L1304 536 L1307 533.7 L1310 531.4 L1313 529.1 L1316 526.9 L1319 524.7 L1322 522.5 L1325 520.4 L1328 518.3 L1331 516.2 L1334 514.2 L1337 512.2 L1340 510.3 L1343 508.3 L1346 506.3 L1349 504.2 L1352 502.2 L1355 500.1 L1358 498.1 L1361 496.1 L1364 494.3 L1367 492.4 L1370 490.7 L1373 489 L1376 487.4 L1379 485.9 L1382 484.4 L1385 483 L1388 481.7 L1391 480.4" stroke="#00f" stroke-width="6.9"/>
<path d="M380 580 L383 580 L386 580 L389 580 L392 580 L395 580 L398 580 L401 580 L404 580 L407 580 L410 580 L413 580 L416 580 L419 580 L422 580 L425 580 L428 580 L431 580 L434 580 L437 580 L440 580 L443 580 L446 580 L449 580 L452 580 L455 580 L458 580 L461 580 L464 580 L467 580 L470 580 L473 580 L476 580 L479 580 L482 580 L485 580 L488 580 L491 580 L494 580 L497 580 L500 580 L503 580 L506 580 L509 580 L512 580 L515 580 L518 580 L521 580 L524 580 L527 580 L530 580 L533 580 L536 580 L539 580 L542 580 L545 580 L548 580 L551 580 L554 580 L557 580 L560 580 L563 580 L566 580 L569 580 L572 580 L575 580 L578 580 L581 580 L584 580 L587 580 L590 580 L593 580 L596 580 L599 580 L602 580 L605 580 L608 580 L611 580 L614 580 L617 580 L620 580 L623 580 L626 580 L629 580 L632 580 L635 580 L638 580 L641 580 L644 580 L647 580 L650 580 L653 580 L656 580 L659 580 L662 580 L665 580 L668 580 L671 580 L674 580 L677 580 L680 580 L683 580 L686 580 L689 580 L692 579.9 L695 579.9 L698 579.9 L701 579.9 L704 579.9 L707 579.9 L710 579.9 L713 579.9 L716 579.9 L719 579.9 L722 579.9 L725 579.9 L728 579.9 L731 579.9 L734 579.9 L737 579.9 L740 579.9 L743 579.9 L746 579.9 L749 579.9 L752 579.9 L755 579.9 L758 579.9 L761 579.8 L764 579.8 L767 579.8 L770 579.8 L773 579.8 L776 579.8 L779 579.8 L782 579.8 L785 579.8 L788 579.8 L791 579.8 L794 579.8 L797 579.8 L800 579.7 L803 579.7 L806 579.7 L809 579.7 L812 579.7 L815 579.7 L818 579.7 L821 579.7 L824 579.6 L827 579.6 L830 579.6 L833 579.6 L836 579.6 L839 579.6 L842 579.5 L845 579.5 L848 579.5 L851 579.5 L854 579.5 L857 579.5 L860 579.4 L863 579.4 L866 579.4 L869 579.4 L872 579.3 L875 579.3 L878 579.3 L881 579.3 L884 579.2 L887 579.2 L890 579.2 L893 579.1 L896 579.1 L899 579.1 L902 579 L905 579 L908 579 L911 578.9 L914 578.9 L917 578.9 L920 578.8 L923 578.8 L926 578.7 L929 578.7 L932 578.6 L935 578.6 L938 578.5 L941 578.5 L944 578.4 L947 578.4 L950 578.3 L953 578.2 L956 578.2 L959 578.1 L962 578 L965 578 L968 577.9 L971 577.8 L974 577.7 L977 577.6 L980 577.6 L983 577.5 L986 577.4 L989 577.3 L992 577.2 L995 577.1 L998 577 L1001 576.9 L1004 576.8 L1007 576.7 L1010 576.5 L1013 576.4 L1016 576.3 L1019 576.2 L1022 576 L1025 575.9 L1028 575.7 L1031 575.6 L1034 575.4 L1037 575.3 L1040 575.1 L1043 574.9 L1046 574.7 L1049 574.6 L1052 574.4 L1055 574.2 L1058 574 L1061 573.8 L1064 573.5 L1067 573.3 L1070 573.1 L1073 572.9 L1076 572.6 L1079 572.4 L1082 572.1 L1085 571.8 L1088 571.5 L1091 571.3 L1094 571 L1097 570.7 L1100 570.3 L1103 570 L1106 569.7 L1109 569.3 L1112 569 L1115 568.6 L1118 568.2 L1121 567.8 L1124 567.4 L1127 567 L1130 566.6 L1133 566.2 L1136 565.7 L1139 565.3 L1142 564.8 L1145 564.3 L1148 563.8 L1151 563.3 L1154 562.7 L1157 562.2 L1160 561.6 L1163 561.1 L1166 560.5 L1169 559.9 L1172 559.3 L1175 558.6 L1178 558 L1181 557.3 L1184 556.6 L1187 555.9 L1190 555.2 L1193 554.5 L1196 553.7 L1199 553 L1202 552.2 L1205 551.4 L1208 550.6 L1211 549.7 L1214 548.9 L1217 548 L1220 547.1 L1223 546.2 L1226 545.3 L1229 544.4 L1232 543.4 L1235 542.4 L1238 541.5 L1241 540.5 L1244 539.4 L1247 538.4 L1250 537.4 L1253 536.3 L1256 535.2 L1259 534.1 L1262 533 L1265 531.9 L1268 530.8 L1271 529.6 L1274 528.5 L1277 527.3 L1280 526.2 L1283 525 L1286 523.8 L1289 522.6 L1292 521.3 L1295 520.1 L1298 518.9 L1301 517.6 L1304 516.4 L1307 515.2 L1310 513.9 L1313 512.6 L1316 511.4 L1319 510.1 L1322 508.8 L1325 507.6 L1328 506.3 L1331 505 L1334 503.7 L1337 502.5 L1340 501.2 L1343 499.9 L1346 498.7 L1349 497.4 L1352 496.1 L1355 494.9 L1358 493.6 L1361 492.4 L1364 491.2 L1367 489.9 L1370 488.7 L1373 487.5 L1376 486.3 L1379 485.1 L1382 483.9 L1385 482.7 L1388 481.5 L1391 480.3 L1394 479.2 L1397 478 L1400 476.9 L1403 475.8 L1406 474.7 L1409 473.5 L1412 472.5 L1415 471.4 L1418 470.3 L1421 469.2 L1424 468.2 L1427 467.2 L1430 466.1 L1433 465.1 L1436 464.1 L1439 463.1 L1442 462.2 L1445 461.2 L1448 460.2 L1451 459.3 L1454 458.4 L1457 457.5 L1460 456.6 L1463 455.7 L1466 454.8 L1469 453.9 L1472 453.1 L1475 452.2 L1478 451.4 L1481 450.6 L1484 449.8 L1487 449 L1490 448.2 L1493 447.5 L1496 446.7 L1499 446 L1502 445.2 L1505 444.5 L1508 443.8 L1511 443.1 L1514 442.4 L1517 441.7 L1520 441.1 L1523 440.4 L1526 439.8 L1529 439.2 L1532 438.5 L1535 437.9 L1538 437.3 L1541 436.8 L1544 436.2 L1547 435.6 L1550 435.1 L1553 434.5 L1556 434 L1559 433.5 L1562 433 L1565 432.5 L1568 432 L1571 431.5 L1574 431 L1577 430.6 L1580 430.1 L1583 429.7 L1586 429.2 L1589 428.8 L1592 428.4 L1595 428 L1598 427.6 L1601 427.2 L1604 426.8 L1607 426.5 L1610 426.1 L1613 425.8 L1616 425.4 L1619 425.1 L1622 424.8 L1625 424.4 L1628 424.1 L1631 423.8 L1634 423.5 L1637 423.3 L1640 423 L1643 422.7 L1646 422.4 L1649 422.2 L1652 421.9 L1655 421.7 L1658 421.4 L1661 421.2 L1664 421 L1667 420.8 L1670 420.5 L1673 420.3 L1676 420.1 L1679 419.9 L1682 419.7 L1685 419.5 L1688 419.4 L1691 419.2 L1694 419 L1697 418.8 L1700 418.7 L1703 418.5 L1706 418.4 L1709 418.2 L1712 418.1 L1715 417.9 L1718 417.8 L1721 417.7 L1724 417.5 L1727 417.4 L1730 417.3 L1733 417.2 L1736 417.1 L1739 417 L1742 416.8 L1745 416.7 L1748 416.6 L1751 416.5 L1754 416.4 L1757 416.4 L1760 416.3 L1763 416.2 L1766 416.1 L1769 416 L1772 415.9 L1775 415.9 L1778 415.8 L1781 415.7 L1782 415.7" stroke="#f0f" stroke-width="6.0"/>
<path d="M1292 521.3 L1295 520.1 L1298 518.9 L1301 517.6 L1304 516.4 L1307 515.2 L1310 513.9 L1313 512.6 L1316 511.4 L1319 510.1 L1322 508.8 L1325 507.6 L1328 506.3 L1331 505 L1334 503.7 L1337 502.5 L1340 501.2 L1343 499.9 L1346 498.7 L1349 497.4 L1352 496.1 L1355 494.9 L1358 493.6 L1361 492.4 L1364 491.2 L1367 489.9 L1370 488.7 L1373 487.5" stroke="#f0f" stroke-width="6.9"/>
<path d="M378 409.5 H1867" stroke="#008080" stroke-width="5" stroke-linecap="butt"/>
<path d="M380 1401.7 L380.5 1401.7 L383.5 1401.7 L386.5 1401.7 L389.5 1401.6 L392.5 1401.6 L395.5 1401.6 L398.5 1401.6 L401.5 1401.5 L402.3 1401.5 M434.4 1401.2 L434.5 1401.2 L437.5 1401.2 L440.5 1401.2 L443.5 1401.1 L446.5 1401.1 L449.5 1401.1 L452.5 1401 L455.5 1401 L456.8 1401 M488.9 1400.5 L489 1400.4 L492 1400.4 L495 1400.3 L498 1400.3 L501 1400.2 L504 1400.1 L507 1400.1 L510 1400 L511.2 1400 M543.4 1399.1 L543.5 1399.1 L546.5 1399 L549.5 1398.9 L552.5 1398.7 L555.5 1398.6 L558.5 1398.5 L561.5 1398.4 L564.5 1398.3 L565.7 1398.2 M597.8 1396.6 L598 1396.5 L601 1396.4 L604 1396.2 L607 1396 L610 1395.7 L613 1395.5 L616 1395.3 L619 1395.1 L620.1 1395 M652.2 1391.8 L652.5 1391.8 L655.5 1391.4 L658.5 1391 L661.5 1390.6 L664.5 1390.2 L667.5 1389.8 L670.5 1389.3 L673.5 1388.9 L674.5 1388.7 M706.7 1382.5 L707 1382.4 L710 1381.7 L713 1380.9 L716 1380.1 L719 1379.3 L722 1378.5 L725 1377.6 L728 1376.7 L729 1376.4 M1487.7 179.3 L1488 179.2 L1491 178 L1494 176.8 L1497 175.6 L1497.5 175.4 M1503.5 173.1 L1509.1 171.1 L1514.7 169.1 L1520.2 167.1 L1525.8 165.2 M1557.8 155.4 L1563.4 153.9 L1568.9 152.4 L1574.5 151 L1580.1 149.6 M1610.1 142.8 L1615.7 141.6 L1621.2 140.5 L1626.8 139.5 L1632.4 138.4 M1660.9 133.7 L1666.5 132.9 L1672.1 132.1 L1677.6 131.3 L1683.2 130.6 M1712 127.1 L1717.6 126.5 L1723.2 126 L1728.7 125.4 L1734.3 124.9 M1765.1 122.4 L1769.3 122.1 L1773.5 121.8 L1777.8 121.5 L1782 121.2" stroke="#000" stroke-width="7.0"/>
<path d="M761.2 1364.3 L761.5 1364.2 L764.5 1362.8 L767.5 1361.4 L770.5 1359.9 L773.5 1358.4 L776.5 1356.8 L779.5 1355.2 L782.5 1353.6 L783.5 1353 M815.6 1331.5 L816 1331.2 L819 1328.8 L822 1326.4 L825 1324 L828 1321.4 L831 1318.8 L834 1316.2 L837 1313.4 L837.5 1313 M866.6 1283.2 L867 1282.8 L870 1279.4 L873 1275.9 L876 1272.3 L879 1268.7 L882 1265 L885 1261.3 L885 1261.2 M908.7 1229.1 L909 1228.6 L912 1224.2 L915 1219.7 L918 1215.1 L921 1210.4 L923.3 1206.8 M942.2 1174.6 L942.5 1174.1 L945.5 1168.6 L948.5 1163.1 L951.5 1157.4 L954.1 1152.3 M969.9 1120.2 L970 1119.9 L973 1113.4 L976 1106.8 L979 1100.1 L980 1097.9 M993.6 1065.7 L994 1064.8 L997 1057.4 L1000 1049.9 L1002.5 1043.4 M1014.8 1011.3 L1015 1010.9 L1018 1002.8 L1021 994.7 L1023.1 989 M1034.6 956.8 L1035 955.8 L1038 947.3 L1041 938.7 L1042.5 934.5 M1053.6 902.4 L1054 901.4 L1057 892.7 L1060 884.1 L1061.4 880.1 M1072.5 847.9 L1073 846.6 L1076 838 L1079 829.5 L1080.3 825.6 M1091.8 793.5 L1092 792.9 L1095 784.6 L1098 776.3 L1099.9 771.2 M1111.9 739 L1112 738.7 L1115 730.8 L1118 723 L1120.4 716.7 M1133.2 684.6 L1133.5 683.8 L1136.5 676.4 L1139.5 669.1 L1142.3 662.3 M1155.9 630.1 L1156 629.9 L1159 622.9 L1162 615.9 L1165 609 L1165.5 607.8 M1179.5 575.7 L1180 574.6 L1183 567.6 L1186 560.7 L1189 553.8 L1189.2 553.4 M1202.9 521.2 L1203 521.1 L1206 514.1 L1209 507.1 L1212 500.1 L1212.5 498.9 M1226.9 466.8 L1227 466.5 L1230 460.1 L1233 453.9 L1236 447.8 L1237.6 444.5 M1254.9 412.3 L1255 412.1 L1258 406.9 L1261 401.8 L1264 396.9 L1267 392 L1268.2 390 M1289.5 357.9 L1289.5 357.8 L1292.5 353.6 L1295.5 349.4 L1298.5 345.2 L1301.5 341.1 L1304.5 337.1 L1305.6 335.6 M1331.1 303.7 L1331.5 303.2 L1334.5 299.7 L1337.5 296.3 L1340.5 292.9 L1343.5 289.5 L1346.5 286.2 L1349.5 282.9 L1350.3 282 M1379.8 252.6 L1380 252.4 L1383 249.6 L1386 246.9 L1389 244.3 L1392 241.7 L1395 239.1 L1398 236.6 L1401 234.1 L1401.5 233.6 M1433.2 207.3 L1433.5 207.1 L1436.5 205 L1439.5 203 L1442.5 201.1 L1445.5 199.3 L1448.5 197.5 L1451.5 195.9 L1454.5 194.3 L1455.5 193.8" stroke="#000" stroke-width="8.2"/>
<path d="M380 1234.5 L380.5 1234.5 L383.5 1234.5 L386.5 1234.5 L389.5 1234.5 L392.5 1234.5 L395.5 1234.4 L398.5 1234.4 L401.5 1234.4 L402.3 1234.4 M434.4 1234.2 L434.5 1234.2 L437.5 1234.2 L440.5 1234.2 L443.5 1234.2 L446.5 1234.2 L449.5 1234.1 L452.5 1234.1 L455.5 1234.1 L456.8 1234.1 M488.9 1233.8 L489 1233.8 L492 1233.8 L495 1233.7 L498 1233.7 L501 1233.7 L504 1233.6 L507 1233.6 L510 1233.6 L511.2 1233.5 M543.4 1233 L543.5 1233 L546.5 1233 L549.5 1232.9 L552.5 1232.9 L555.5 1232.8 L558.5 1232.7 L561.5 1232.7 L564.5 1232.6 L565.7 1232.6 M597.8 1231.7 L598 1231.7 L601 1231.6 L604 1231.5 L607 1231.4 L610 1231.2 L613 1231.1 L616 1231 L619 1230.9 L620.1 1230.8 M652.2 1229.1 L652.5 1229.1 L655.5 1228.8 L658.5 1228.6 L661.5 1228.4 L664.5 1228.2 L667.5 1227.9 L670.5 1227.7 L673.5 1227.4 L674.5 1227.3 M706.7 1223.8 L707 1223.7 L710 1223.3 L713 1222.9 L716 1222.4 L719 1222 L722 1221.5 L725 1221 L728 1220.4 L729 1220.2 M761.2 1213 L761.5 1212.9 L764.5 1212.1 L767.5 1211.3 L770.5 1210.4 L773.5 1209.4 L776.5 1208.5 L779.5 1207.5 L782.5 1206.5 L783.5 1206.1 M1486 180 L1486 180 L1489 178.8 L1492 177.6 L1495 176.4 L1497.5 175.4 M1503.5 173.1 L1509.1 171.1 L1514.7 169.1 L1520.2 167.1 L1525.8 165.2 M1557.8 155.4 L1563.4 153.9 L1568.9 152.4 L1574.5 151 L1580.1 149.6 M1610.1 142.8 L1615.7 141.6 L1621.2 140.5 L1626.8 139.5 L1632.4 138.4 M1660.9 133.7 L1666.5 132.9 L1672.1 132.1 L1677.6 131.3 L1683.2 130.6 M1712 127.1 L1717.6 126.5 L1723.2 126 L1728.7 125.4 L1734.3 124.9 M1765.1 122.4 L1769.3 122.1 L1773.5 121.8 L1777.8 121.5 L1782 121.2" stroke="#f00" stroke-width="7.0"/>
<path d="M815.6 1192.8 L816 1192.6 L819 1191.2 L822 1189.6 L825 1188.1 L828 1186.5 L831 1184.9 L834 1183.2 L837 1181.5 L837.9 1180.9 M870 1159.7 L870.5 1159.4 L873.5 1157.1 L876.5 1154.8 L879.5 1152.4 L882.5 1150 L885.5 1147.6 L888.5 1145.1 L891.5 1142.5 L892 1142.1 M920.9 1114.3 L921 1114.1 L924 1110.9 L927 1107.5 L930 1104.1 L933 1100.6 L936 1097 L939 1093.3 L939.4 1092.8 M962.6 1060.7 L963 1060.1 L966 1055.5 L969 1050.7 L972 1045.8 L975 1040.8 L976.4 1038.4 M994 1006.3 L994 1006.2 L997 1000.3 L1000 994.3 L1003 988.1 L1005 984 M1019.6 951.8 L1020 951 L1023 944.1 L1026 937.1 L1029 930 L1029.2 929.5 M1042.4 897.4 L1042.5 897 L1045.5 889.5 L1048.5 882 L1051.2 875.1 M1063.8 842.9 L1064 842.3 L1067 834.5 L1070 826.8 L1072.4 820.6 M1084.8 788.5 L1085 788 L1088 780.3 L1091 772.6 L1093.5 766.2 M1106.2 734 L1106.5 733.3 L1109.5 725.8 L1112.5 718.3 L1115.2 711.7 M1128.3 679.6 L1128.5 679.2 L1131.5 672 L1134.5 664.8 L1137.5 657.7 L1137.7 657.3 M1151.5 625.1 L1151.5 625 L1154.5 618.1 L1157.5 611.3 L1160.5 604.4 L1161.2 602.8 M1175.6 570.7 L1176 569.8 L1179 563.2 L1182 556.6 L1185 550.1 L1185.8 548.4 M1200.8 516.2 L1201 515.9 L1204 509.6 L1207 503.4 L1210 497.2 L1211.6 493.9 M1227.6 461.8 L1228 461 L1231 455.2 L1234 449.4 L1237 443.6 L1239.2 439.5 M1256.8 407.3 L1257 406.9 L1260 401.7 L1263 396.5 L1266 391.4 L1269 386.3 L1269.8 385 M1290 352.9 L1290.5 352.1 L1293.5 347.7 L1296.5 343.3 L1299.5 338.9 L1302.5 334.7 L1305.4 330.6 M1330.2 298.7 L1330.5 298.3 L1333.5 294.8 L1336.5 291.3 L1339.5 287.9 L1342.5 284.5 L1345.5 281.3 L1348.5 278 L1349 277.5 M1377.6 249.7 L1378 249.3 L1381 246.7 L1384 244.1 L1387 241.6 L1390 239.1 L1393 236.7 L1396 234.3 L1399 232 L1399.5 231.6 M1431.5 207.7 L1432 207.3 L1435 205.4 L1438 203.5 L1441 201.7 L1444 199.9 L1447 198.2 L1450 196.6 L1453 195 L1453.8 194.6" stroke="#f00" stroke-width="8.2"/>
<path d="M380 870.5 L380.5 870.5 L383.5 870.5 L386.5 870.5 L389.5 870.5 L392.5 870.5 L395.5 870.5 L398.5 870.5 L401.5 870.5 L402.3 870.5 M434.4 870.4 L434.5 870.4 L437.5 870.4 L440.5 870.4 L443.5 870.4 L446.5 870.4 L449.5 870.4 L452.5 870.4 L455.5 870.4 L456.8 870.4 M488.9 870.4 L489 870.4 L492 870.4 L495 870.4 L498 870.4 L501 870.4 L504 870.3 L507 870.3 L510 870.3 L511.2 870.3 M543.4 870.2 L543.5 870.2 L546.5 870.2 L549.5 870.2 L552.5 870.2 L555.5 870.2 L558.5 870.2 L561.5 870.1 L564.5 870.1 L565.7 870.1 M597.8 869.9 L598 869.9 L601 869.8 L604 869.8 L607 869.8 L610 869.8 L613 869.7 L616 869.7 L619 869.6 L620.1 869.6 M652.2 869.1 L652.5 869.1 L655.5 869.1 L658.5 869 L661.5 868.9 L664.5 868.9 L667.5 868.8 L670.5 868.7 L673.5 868.7 L674.5 868.6 M706.7 867.6 L707 867.6 L710 867.5 L713 867.4 L716 867.3 L719 867.1 L722 867 L725 866.9 L728 866.7 L729 866.7 M761.2 864.8 L761.5 864.8 L764.5 864.6 L767.5 864.3 L770.5 864.1 L773.5 863.9 L776.5 863.6 L779.5 863.4 L782.5 863.1 L783.5 863 M815.6 859.6 L816 859.5 L819 859.1 L822 858.7 L825 858.3 L828 857.9 L831 857.4 L834 857 L837 856.5 L837.9 856.3 M870 850.1 L870.5 850 L873.5 849.3 L876.5 848.6 L879.5 847.9 L882.5 847.1 L885.5 846.3 L888.5 845.5 L891.5 844.6 L892.4 844.4 M1503.5 173.1 L1509.1 171.1 L1514.7 169.1 L1520.2 167.1 L1525.8 165.2 M1557.8 155.4 L1563.4 153.9 L1568.9 152.4 L1574.5 151 L1580.1 149.6 M1610.1 142.8 L1615.7 141.6 L1621.2 140.5 L1626.8 139.5 L1632.4 138.4 M1660.9 133.7 L1666.5 132.9 L1672.1 132.1 L1677.6 131.3 L1683.2 130.6 M1712 127.1 L1717.6 126.5 L1723.2 126 L1728.7 125.4 L1734.3 124.9 M1765.1 122.4 L1769.3 122.1 L1773.5 121.8 L1777.8 121.5 L1782 121.2" stroke="#00f" stroke-width="7.0"/>
<path d="M924.5 833.5 L925 833.3 L928 832.1 L931 830.8 L934 829.5 L937 828.2 L940 826.8 L943 825.4 L946 824 L946.8 823.6 M979 805 L979 805 L982 803 L985 800.9 L988 798.8 L991 796.6 L994 794.3 L997 792 L1000 789.7 L1001.2 788.7 M1030.9 761.5 L1031 761.3 L1034 758.2 L1037 755 L1040 751.7 L1043 748.3 L1046 744.8 L1049 741.3 L1049.7 740.5 M1073.4 708.4 L1073.5 708.3 L1076.5 703.8 L1079.5 699.1 L1082.5 694.3 L1085.5 689.5 L1087.5 686.1 M1106.3 654 L1106.5 653.7 L1109.5 648.4 L1112.5 643.2 L1115.5 638 L1118.5 632.7 L1119.1 631.7 M1137.3 599.5 L1137.5 599.2 L1140.5 593.9 L1143.5 588.5 L1146.5 583.1 L1149.5 577.7 L1149.7 577.2 M1167.4 545.1 L1167.5 544.9 L1170.5 539.4 L1173.5 533.9 L1176.5 528.4 L1179.5 522.9 L1179.6 522.8 M1197.2 490.6 L1197.5 490.1 L1200.5 484.6 L1203.5 479.2 L1206.5 473.9 L1209.5 468.5 L1209.6 468.3 M1228.1 436.2 L1228.5 435.4 L1231.5 430.4 L1234.5 425.3 L1237.5 420.3 L1240.5 415.4 L1241.4 413.9 M1261.8 381.7 L1262 381.4 L1265 376.9 L1268 372.4 L1271 368 L1274 363.7 L1277 359.4 M1300.8 327.4 L1301 327.1 L1304 323.4 L1307 319.6 L1310 316 L1313 312.4 L1316 308.8 L1318.9 305.5 M1346.3 276.1 L1346.5 275.9 L1349.5 273 L1352.5 270.1 L1355.5 267.2 L1358.5 264.4 L1361.5 261.7 L1364.5 259 L1366.6 257.1 M1398.2 231.5 L1398.5 231.3 L1401.5 229.1 L1404.5 226.8 L1407.5 224.6 L1410.5 222.4 L1413.5 220.2 L1416.5 218 L1419.5 215.8 L1420.5 215.1 M1452.7 195.2 L1453 195 L1456 193.5 L1459 192.1 L1462 190.6 L1465 189.2 L1468 187.8 L1471 186.5 L1474 185.2 L1475 184.7" stroke="#00f" stroke-width="8.2"/>
<path d="M380 394.5 L380.5 394.5 L383.5 394.5 L386.5 394.5 L389.5 394.5 L392.5 394.5 L395.5 394.5 L398.5 394.5 L401.5 394.5 L402.3 394.5 M434.4 394.5 L434.5 394.5 L437.5 394.5 L440.5 394.5 L443.5 394.5 L446.5 394.5 L449.5 394.5 L452.5 394.5 L455.5 394.5 L456.8 394.5 M488.9 394.5 L489 394.5 L492 394.5 L495 394.5 L498 394.5 L501 394.5 L504 394.5 L507 394.5 L510 394.5 L511.2 394.5 M543.4 394.4 L543.5 394.4 L546.5 394.4 L549.5 394.4 L552.5 394.4 L555.5 394.4 L558.5 394.4 L561.5 394.4 L564.5 394.4 L565.7 394.4 M597.8 394.4 L598 394.4 L601 394.4 L604 394.4 L607 394.4 L610 394.4 L613 394.4 L616 394.4 L619 394.4 L620.1 394.4 M652.2 394.3 L652.5 394.3 L655.5 394.3 L658.5 394.3 L661.5 394.3 L664.5 394.3 L667.5 394.3 L670.5 394.3 L673.5 394.3 L674.5 394.3 M706.7 394.2 L707 394.2 L710 394.2 L713 394.2 L716 394.2 L719 394.2 L722 394.2 L725 394.2 L728 394.2 L729 394.1 M761.2 394 L761.5 394 L764.5 394 L767.5 394 L770.5 394 L773.5 394 L776.5 394 L779.5 393.9 L782.5 393.9 L783.5 393.9 M815.6 393.7 L816 393.7 L819 393.7 L822 393.7 L825 393.7 L828 393.6 L831 393.6 L834 393.6 L837 393.6 L837.9 393.6 M870 393.3 L870.5 393.3 L873.5 393.2 L876.5 393.2 L879.5 393.1 L882.5 393.1 L885.5 393.1 L888.5 393 L891.5 393 L892.4 393 M924.5 392.5 L925 392.4 L928 392.4 L931 392.3 L934 392.3 L937 392.2 L940 392.1 L943 392.1 L946 392 L946.8 392 M979 391 L979 391 L982 390.9 L985 390.8 L988 390.7 L991 390.6 L994 390.5 L997 390.3 L1000 390.2 L1001.2 390.1 M1033.4 388.3 L1033.5 388.3 L1036.5 388 L1039.5 387.8 L1042.5 387.6 L1045.5 387.3 L1048.5 387.1 L1051.5 386.8 L1054.5 386.5 L1055.7 386.4 M1087.8 382.2 L1088 382.2 L1091 381.7 L1094 381.2 L1097 380.7 L1100 380.1 L1103 379.5 L1106 378.9 L1109 378.3 L1110.2 378 M1142.3 369.7 L1142.5 369.7 L1145.5 368.8 L1148.5 367.8 L1151.5 366.9 L1154.5 365.9 L1157.5 364.9 L1160.5 363.9 L1163.5 362.9 L1164.6 362.6 M1503.5 173.1 L1509.1 171.1 L1514.7 169.1 L1520.2 167.1 L1525.8 165.2 M1557.8 155.4 L1563.4 153.9 L1568.9 152.4 L1574.5 151 L1580.1 149.6 M1610.1 142.8 L1615.7 141.6 L1621.2 140.5 L1626.8 139.5 L1632.4 138.4 M1660.9 133.7 L1666.5 132.9 L1672.1 132.1 L1677.6 131.3 L1683.2 130.6 M1712 127.1 L1717.6 126.5 L1723.2 126 L1728.7 125.4 L1734.3 124.9 M1765.1 122.4 L1769.3 122.1 L1773.5 121.8 L1777.8 121.5 L1782 121.2" stroke="#f0f" stroke-width="7.0"/>
<path d="M1196.8 350.7 L1197 350.6 L1200 349.4 L1203 348.2 L1206 347 L1209 345.8 L1212 344.5 L1215 343.3 L1218 342 L1219 341.5 M1251.2 326.1 L1251.5 325.9 L1254.5 324.3 L1257.5 322.7 L1260.5 321.1 L1263.5 319.4 L1266.5 317.6 L1269.5 315.9 L1272.5 314.1 L1273.5 313.5 M1305.6 292.5 L1306 292.3 L1309 290.2 L1312 288.1 L1315 285.9 L1318 283.8 L1321 281.6 L1324 279.4 L1327 277.2 L1327.9 276.5 M1360 252.9 L1360.5 252.5 L1363.5 250.4 L1366.5 248.2 L1369.5 246 L1372.5 243.9 L1375.5 241.8 L1378.5 239.7 L1381.5 237.6 L1382.3 237 M1414.5 216.1 L1414.5 216.1 L1417.5 214.3 L1420.5 212.6 L1423.5 210.8 L1426.5 209.1 L1429.5 207.4 L1432.5 205.7 L1435.5 204.1 L1436.8 203.4 M1468.9 187.4 L1469 187.4 L1472 186 L1475 184.7 L1478 183.4 L1481 182.1 L1484 180.9 L1487 179.6 L1490 178.4 L1491.2 177.9" stroke="#f0f" stroke-width="8.2"/>
<path d="M380 109.5 H402.3 M434.4 109.5 H456.8 M488.9 109.5 H511.2 M543.4 109.5 H565.6 M597.8 109.5 H620.1 M652.2 109.5 H674.5 M706.7 109.5 H729 M761.2 109.5 H783.5 M815.6 109.5 H837.9 M870 109.5 H892.3 M924.5 109.5 H946.8 M979 109.5 H1001.2 M1033.4 109.5 H1055.7 M1087.8 109.5 H1110.1 M1142.3 109.5 H1164.6 M1196.8 109.5 H1219 M1251.2 109.5 H1273.5 M1305.7 109.5 H1328 M1360.1 109.5 H1382.4 M1414.5 109.5 H1436.8 M1469 109.5 H1491.3 M1503.4 109.5 H1525.7 M1557.9 109.5 H1580.2 M1612.3 109.5 H1634.6 M1666.8 109.5 H1689 M1721.2 109.5 H1743.5 M1775.7 109.5 H1798 M1830.1 109.5 H1852.4" stroke="#008080" stroke-width="7.0"/>
</g>
<g font-family="'Liberation Sans', Arial, sans-serif" font-size="76.5" fill="#000">
<text x="339" y="1534" text-anchor="end" transform="scale(1,1.015)">0</text>
<text x="339" y="1241.4" text-anchor="end" transform="scale(1,1.015)">2</text>
<text x="339" y="948.8" text-anchor="end" transform="scale(1,1.015)">4</text>
<text x="339" y="656.2" text-anchor="end" transform="scale(1,1.015)">6</text>
<text x="339" y="363.5" text-anchor="end" transform="scale(1,1.015)">8</text>
<text x="339" y="70.9" text-anchor="end" transform="scale(1,1.015)">10</text>
<text x="378" y="1611.3" text-anchor="middle" transform="scale(1,1.015)">0.1</text>
<text x="751.2" y="1611.3" text-anchor="middle" transform="scale(1,1.015)">1</text>
<text x="1122.5" y="1611.3" text-anchor="middle" transform="scale(1,1.015)">10</text>
<text x="1493.8" y="1611.3" text-anchor="middle" transform="scale(1,1.015)">100</text>
<text x="1865" y="1611.3" text-anchor="middle" transform="scale(1,1.015)">1000</text>
</g>
<g font-family="'Liberation Serif', 'Times New Roman', serif" fill="#000">
<text x="478.8" y="1322.3" font-size="83" transform="scale(1,1.035)">0</text>
<text x="478.8" y="1157.5" font-size="83" transform="scale(1,1.035)">0.5</text>
<text x="478.8" y="818.9" font-size="83" transform="scale(1,1.035)">0.8</text>
<text x="482.6" y="511.5" font-size="83" transform="scale(1,1.035)">0.95</text>
<text y="292.4" font-size="82"><tspan x="730" font-style="italic">a</tspan><tspan x="786.5" font-size="84">/</tspan><tspan x="827" font-size="82" font-style="italic">b</tspan><tspan x="881.9" font-size="90" dy="7.8">=</tspan><tspan x="942" font-size="82" dy="-7.8">1</tspan></text>
<text y="829.7" font-size="126" font-style="italic" transform="scale(1.11,1)"><tspan x="23">F</tspan><tspan x="185.1">F</tspan></text>
<text y="829.5" font-size="129" x="138.5">/</text>
<text y="862.9" font-size="66" x="272">0</text>
<text x="1119" y="1796" font-size="126" font-style="italic">b</text>
<text x="0" y="0" font-size="126" font-style="italic" transform="translate(1055.3,1796) skewX(-5) scale(1.3,1)">λ</text>
</g>
<g shape-rendering="crispEdges">
<path d="M998.6 267.4 L1077.3 135.1" stroke="#000" stroke-width="3.2" fill="none" stroke-linecap="round"/><path d="M1093.2 108.5 L1083.8 141.3 L1068.8 132.4 Z" fill="#000"/>
<path d="M998.6 267.4 L1060.8 389.2" stroke="#000" stroke-width="3.2" fill="none" stroke-linecap="round"/><path d="M1074.9 416.8 L1052.1 391.4 L1067.7 383.4 Z" fill="#000"/>
<path d="M652 504.4 L690.3 419.6" stroke="#000" stroke-width="3.2" fill="none" stroke-linecap="round"/><path d="M703 391.3 L697.4 425 L681.5 417.8 Z" fill="#000"/>
<path d="M652 504.4 L688 556.3" stroke="#000" stroke-width="3.2" fill="none" stroke-linecap="round"/><path d="M705.6 581.8 L679.6 559.7 L694 549.7 Z" fill="#000"/>
</g>
</svg>
</body></html>
